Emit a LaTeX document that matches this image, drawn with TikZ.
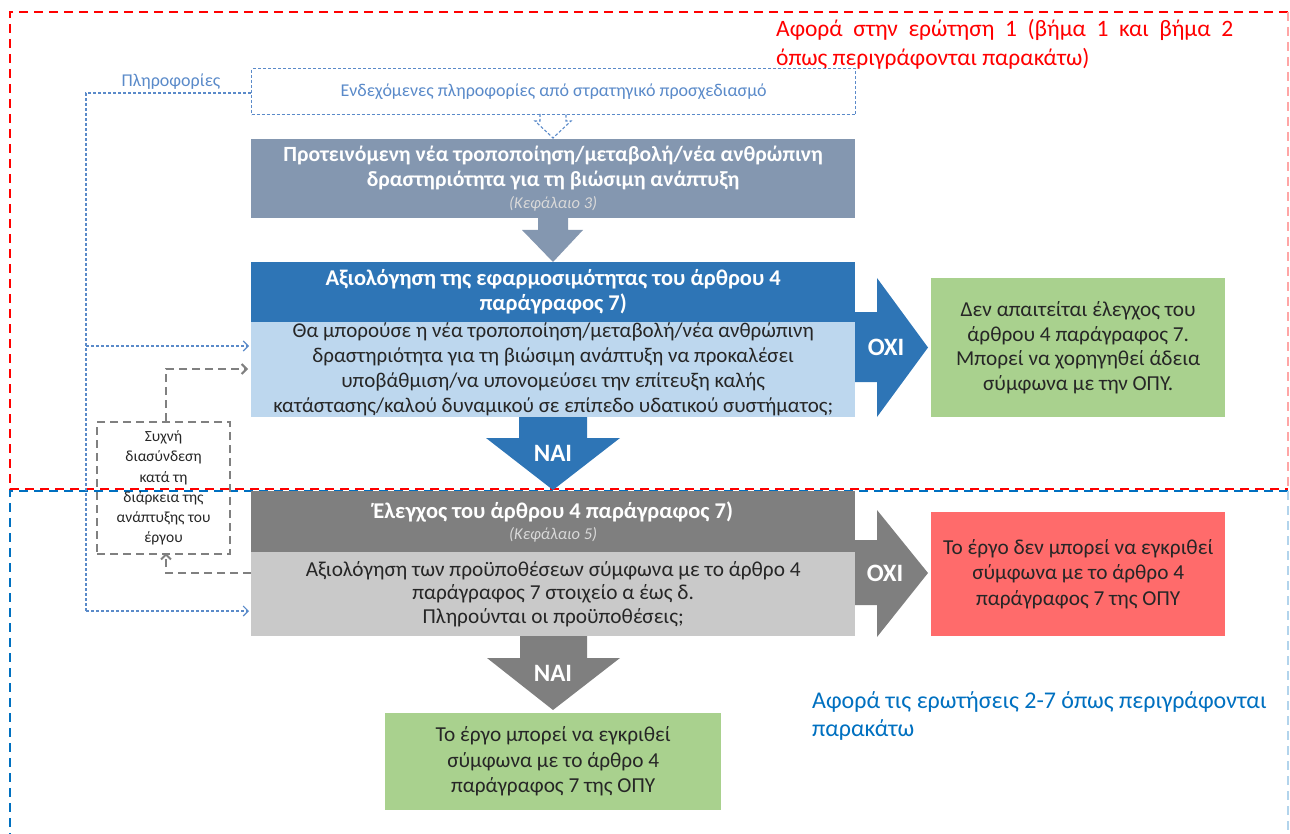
\documentclass[tikz,border=0pt]{standalone}
\usepackage{fontspec}
\setmainfont{Carlito}
\usetikzlibrary{arrows.meta}
\definecolor{hdrgb}{HTML}{8497B0}
\definecolor{bluehdr}{HTML}{2E75B6}
\definecolor{lightblue}{HTML}{BDD7EE}
\definecolor{greenbox}{HTML}{A9D18E}
\definecolor{darkgray}{HTML}{7F7F7F}
\definecolor{lightgray}{HTML}{C9C9C9}
\definecolor{redbox}{HTML}{FF6B6B}
\definecolor{infoblue}{HTML}{5A8AC9}
\definecolor{txtdark}{HTML}{262626}
\definecolor{bluetxt}{HTML}{0070C0}
\definecolor{italgray}{HTML}{D9D9D9}
\tikzset{
  boxbase/.style={anchor=north west, inner sep=0pt, align=center, draw=none},
  infoline/.style={draw=infoblue, line width=1.1pt, dash pattern=on 3pt off 2pt},
  grayline/.style={draw=gray, line width=2pt, dash pattern=on 8pt off 5pt},
  tipopen/.style={-{Straight Barb[length=5pt,width=10pt]}},
  arrowtext/.style={text=white, font=\fontsize{25}{28}\selectfont\bfseries, inner sep=0pt}
}
\newcommand{\chapnote}[1]{\fontsize{16.5}{20}\selectfont\mdseries\itshape\color{italgray}#1}
\begin{document}
\begin{tikzpicture}[x=1pt,y=-1pt]
\useasboundingbox (0,0) rectangle (1290,834);
% frames
\draw[red, line width=1.8pt, dash pattern=on 9pt off 6pt] (1288,12) -- (10,12) -- (10,489) -- (1288,489);
\draw[red!35, line width=1.2pt, dash pattern=on 9pt off 6pt] (1288,12) -- (1288,489);
\draw[bluetxt, line width=1.8pt, dash pattern=on 9pt off 6pt] (1288,491) -- (10,491) -- (10,834);
\draw[bluetxt!30, line width=1.2pt, dash pattern=on 9pt off 6pt] (1288,491) -- (1288,834);

% red text
\node[anchor=north west, inner sep=0pt, align=left, text=red, font=\fontsize{23.5}{29}\selectfont] (redtxt) at (776,19)
  {\makebox[457pt][s]{Αφορά στην ερώτηση 1 (βήμα 1 και βήμα 2}\\ όπως περιγράφονται παρακάτω)};

% info box
\node[boxbase, minimum width=604pt, minimum height=46pt, draw=infoblue, line width=1.1pt, dash pattern=on 3pt off 2pt, text=infoblue, font=\fontsize{18}{21}\selectfont] (info) at (251,68) {Ενδεχόμενες πληροφορίες από στρατηγικό προσχεδιασμό};
\node[text=infoblue, font=\fontsize{18}{21}\selectfont, inner sep=0pt] (infolbl) at (171,82) {Πληροφορίες};

% top box
\node[boxbase, fill=hdrgb, minimum width=604pt, minimum height=79pt, text=white, font=\fontsize{21.7}{25}\selectfont\bfseries] (prop) at (251,139)
  {Προτεινόμενη νέα τροποποίηση/μεταβολή/νέα ανθρώπινη\\ δραστηριότητα για τη βιώσιμη ανάπτυξη\\[-3pt] \chapnote{(Κεφάλαιο 3)}};

% dashed outline arrow
\draw[infoblue, line width=1.1pt, dash pattern=on 3pt off 2pt] (540,114) -- (540,121) -- (535,121) -- (553,138) -- (571,121) -- (566,121) -- (566,114);

% down arrow 1
\fill[hdrgb] (538,218) -- (568,218) -- (568,230) -- (583,230) -- (553,262) -- (522,230) -- (538,230) -- cycle;

% blue header
\node[boxbase, fill=bluehdr, minimum width=604pt, minimum height=60pt, text=white, font=\fontsize{22.5}{25}\selectfont\bfseries] (aps) at (251,262)
  {Αξιολόγηση της εφαρμοσιμότητας του άρθρου 4\\ παράγραφος 7)};
\node[boxbase, fill=lightblue, minimum width=604pt, minimum height=95pt, text=txtdark, font=\fontsize{21}{25}\selectfont] (apsq) at (251,322)
  {Θα μπορούσε η νέα τροποποίηση/μεταβολή/νέα ανθρώπινη\\ δραστηριότητα για τη βιώσιμη ανάπτυξη να προκαλέσει\\ υποβάθμιση/να υπονομεύσει την επίτευξη καλής\\ κατάστασης/καλού δυναμικού σε επίπεδο υδατικού συστήματος;};

% OXI blue
\fill[bluehdr] (855,312) -- (877,312) -- (877,278) -- (928,347.5) -- (877,417) -- (877,382) -- (855,382) -- cycle;
\node[arrowtext] (oxi1) at (886,347) {OXI};
\node[boxbase, fill=greenbox, minimum width=294pt, minimum height=139pt, text=txtdark, font=\fontsize{21.3}{24.5}\selectfont] (noreq) at (931,278)
  {Δεν απαιτείται έλεγχος του\\ άρθρου 4 παράγραφος 7.\\ Μπορεί να χορηγηθεί άδεια\\ σύμφωνα με την ΟΠΥ.};

% NAI blue
\fill[bluehdr] (519,417) -- (587,417) -- (587,438) -- (620,438) -- (553,490) -- (486,438) -- (519,438) -- cycle;
\node[arrowtext] (nai1) at (553,453) {NAI};

% gray header
\node[boxbase, fill=darkgray, minimum width=604pt, minimum height=61pt, text=white, font=\fontsize{22.5}{25}\selectfont\bfseries] (chk) at (251,491)
  {Έλεγχος του άρθρου 4 παράγραφος 7)\\[-4pt] \chapnote{(Κεφάλαιο 5)}};
\node[boxbase, fill=lightgray, minimum width=604pt, minimum height=84pt, text=txtdark, font=\fontsize{21.3}{23.8}\selectfont] (cond) at (251,552)
  {Αξιολόγηση των προϋποθέσεων σύμφωνα με το άρθρο 4\\ παράγραφος 7 στοιχείο α έως δ.\\ Πληρούνται οι προϋποθέσεις;};

% OXI gray
\fill[darkgray] (855,540) -- (877,540) -- (877,510) -- (928,573) -- (877,637) -- (877,605) -- (855,605) -- cycle;
\node[arrowtext] (oxi2) at (885,573) {OXI};
\node[boxbase, fill=redbox, minimum width=294pt, minimum height=124pt, text=txtdark, font=\fontsize{21.3}{25.5}\selectfont] (noapp) at (931,512)
  {Το έργο δεν μπορεί να εγκριθεί\\ σύμφωνα με το άρθρο 4\\ παράγραφος 7 της ΟΠΥ};

% NAI gray
\fill[darkgray] (520,636) -- (587,636) -- (587,658) -- (620,658) -- (553,710) -- (487,658) -- (520,658) -- cycle;
\node[arrowtext] (nai2) at (553,673) {NAI};
\node[boxbase, fill=greenbox, minimum width=336pt, minimum height=97pt, text=txtdark, font=\fontsize{21.3}{25.5}\selectfont] (app) at (385,713)
  {Το έργο μπορεί να εγκριθεί\\ σύμφωνα με το άρθρο 4\\ παράγραφος 7 της ΟΠΥ};

% blue text
\node[anchor=north west, inner sep=0pt, align=left, text=bluetxt, font=\fontsize{24}{28}\selectfont] (bluenote) at (812,691)
  {Αφορά τις ερωτήσεις 2-7 όπως περιγράφονται\\ παρακάτω};

% left gray dashed box
\node[boxbase, minimum width=133pt, minimum height=132pt, draw=gray, line width=2pt, dash pattern=on 8pt off 5pt, text=txtdark, font=\fontsize{15.5}{20.3}\selectfont] (freq) at (96,421)
  {Συχνή\\ διασύνδεση\\ κατά τη\\ διάρκεια της\\ ανάπτυξης του\\ έργου};

% info lines
\coordinate (L1) at (86,93);
\coordinate (J1) at (86,346);
\coordinate (L2) at (86,611);
\draw[infoline] (info.west |- L1) -- (L1) -- (L2);
\draw[infoline, tipopen] (J1) -- ([xshift=-2pt]apsq.west |- J1);
\draw[infoline, tipopen] (L2) -- ([xshift=-2pt]cond.west |- L2);

% gray loop
\coordinate (G1) at (166,369);
\coordinate (G2) at (166,573);
\draw[grayline, tipopen] (freq.north -| G1) -- (G1) -- ([xshift=-3pt]apsq.west |- G1);
\draw[grayline, tipopen] (cond.west |- G2) -- (G2) -- ([yshift=2pt]freq.south -| G2);
\end{tikzpicture}
\end{document}
